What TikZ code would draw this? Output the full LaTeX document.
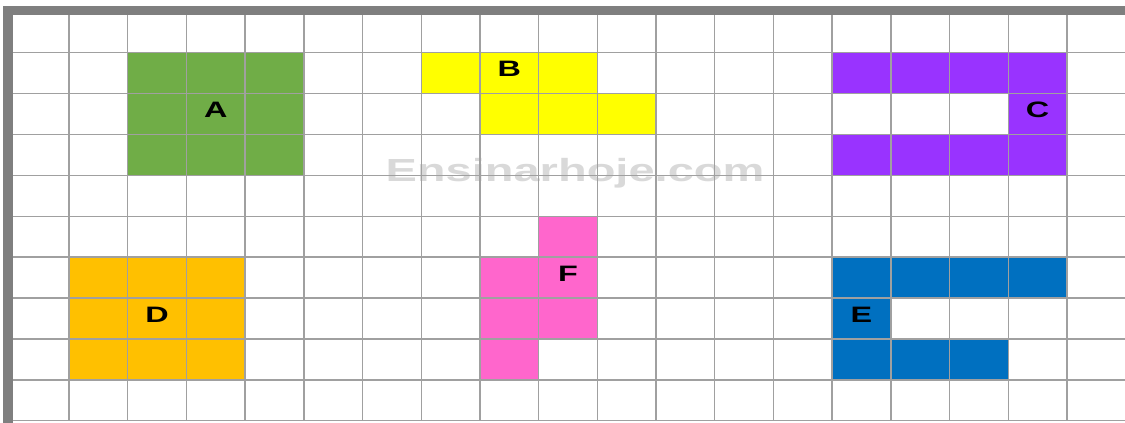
\documentclass[tikz,border=0pt]{standalone}
\usepackage{fontspec}
\setmainfont{Liberation Sans}
\usepackage{tikz}
\definecolor{figgreen}{RGB}{112,173,71}
\definecolor{figyellow}{RGB}{255,255,0}
\definecolor{figpurple}{RGB}{153,51,255}
\definecolor{figorange}{RGB}{255,192,0}
\definecolor{figpink}{RGB}{255,102,204}
\definecolor{figblue}{RGB}{0,112,192}
\definecolor{figline}{RGB}{160,160,160}
\definecolor{figframe}{RGB}{127,127,127}
\definecolor{figmark}{RGB}{217,217,217}

\begin{document}
\begin{tikzpicture}[
    x=1.174cm, y=-0.818cm,
    gridline/.style={draw=figline, line width=0.8pt},
    frame/.style={fill=figframe},
    letter/.style={font=\fontsize{12.7}{14}\selectfont\bfseries, inner sep=0pt, yshift=2.3pt},
    watermark/.style={font=\fontsize{18.2}{20}\selectfont\bfseries, text=figmark, inner sep=0pt}
  ]
    \useasboundingbox (-0.1755,-0.2885) rectangle (18.99,10.054);

    % figures
    \fill[figgreen] (2,1) rectangle (5,4);
    \fill[figyellow] (7,1) rectangle (10,2);
    \fill[figyellow] (8,2) rectangle (11,3);
    \fill[figpurple] (14,1) rectangle (18,2);
    \fill[figpurple] (17,2) rectangle (18,3);
    \fill[figpurple] (14,3) rectangle (18,4);
    \fill[figorange] (1,6) rectangle (4,9);
    \fill[figpink] (9,5) rectangle (10,6);
    \fill[figpink] (8,6) rectangle (10,8);
    \fill[figpink] (8,8) rectangle (9,9);
    \fill[figblue] (14,6) rectangle (18,7);
    \fill[figblue] (14,7) rectangle (15,8);
    \fill[figblue] (14,8) rectangle (17,9);

    \node[watermark] (mark) at (9.62,3.94) {\scalebox{1.47}[1]{Ensinarhoje.com}};

    % grid
    \foreach \i in {0,...,19} \draw[gridline] (\i,0) -- (\i,10);
    \foreach \j in {0,...,10} \draw[gridline] (0,\j) -- (19.2,\j);

    \fill[frame] (-0.124,-0.142) rectangle (19.2,0.078);
    \fill[frame] (-0.124,-0.142) rectangle (0.046,10.1);

    \node[letter] (la) at (3.5,2.5) {\scalebox{1.45}[1]{A}};
    \node[letter] (lb) at (8.5,1.5) {\scalebox{1.45}[1]{B}};
    \node[letter] (lc) at (17.5,2.5) {\scalebox{1.45}[1]{C}};
    \node[letter] (ld) at (2.5,7.5) {\scalebox{1.45}[1]{D}};
    \node[letter] (le) at (14.5,7.5) {\scalebox{1.45}[1]{E}};
    \node[letter] (lf) at (9.5,6.5) {\scalebox{1.45}[1]{F}};
  \end{tikzpicture}
\end{document}
